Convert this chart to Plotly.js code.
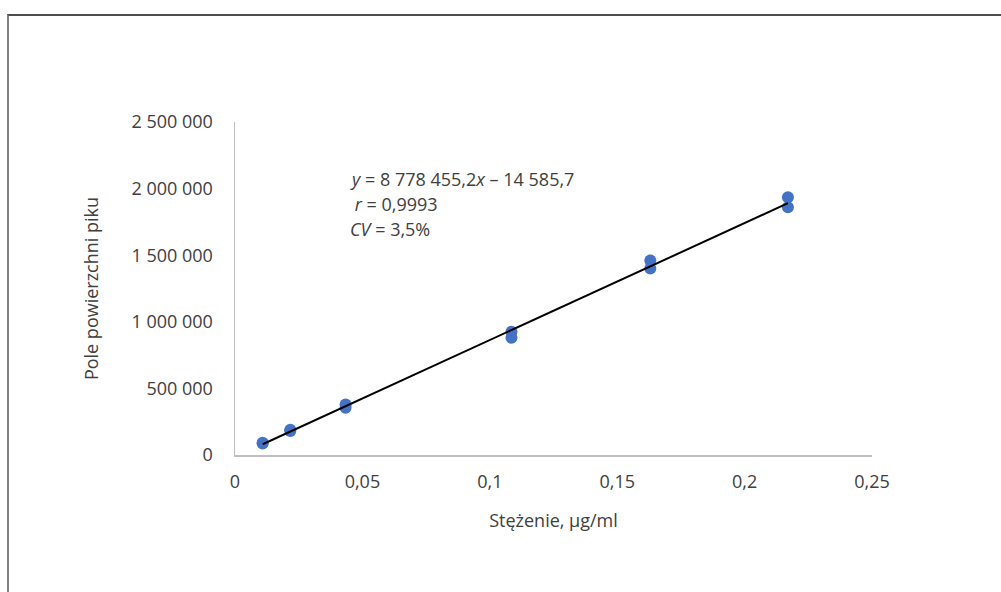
<!DOCTYPE html>
<html>
<head>
<meta charset="utf-8">
<script src="https://cdn.plot.ly/plotly-3.0.1.min.js"></script>
<style>
  html, body { margin: 0; padding: 0; width: 1001px; height: 592px; overflow: hidden; background: #fff; }
  #chart { position: absolute; left: 0; top: 0; width: 1001px; height: 592px; }
  #frame { position: absolute; left: 7px; top: 14px; width: 2000px; height: 2000px;
           border-top: 2px solid #4d4d4d; border-left: 2px solid #7f7f7f; pointer-events: none; }
</style>
</head>
<body>
<div id="chart"></div>
<div id="frame"></div>
<script>
// Concentration (µg/ml) and peak area
const concentration = [0.01085, 0.01085, 0.0217, 0.0217, 0.0434, 0.0434, 0.1085, 0.1085, 0.163, 0.163, 0.217, 0.217];
const peakArea      = [86000, 92000, 180000, 190000, 380000, 355000, 925000, 880000, 1460000, 1400000, 1935000, 1860000];

// Regression line parameters
const slope = 8778455.2;
const intercept = -14585.7;

const xTickVals = [0, 0.05, 0.1, 0.15, 0.2, 0.25];
const yTickVals = [0, 500000, 1000000, 1500000, 2000000, 2500000];

const xTitle = "Stężenie, µg/ml";
const yTitle = "Pole powierzchni piku";
const eqLines = ["<i>y</i> = 8 778 455,2<i>x</i> – 14 585,7", " <i>r</i> = 0,9993", "<i>CV</i> = 3,5%"];

const xMin = Math.min(...concentration), xMax = Math.max(...concentration);
const lineX = [xMin, xMax];
const lineY = lineX.map(v => slope * v + intercept);

const font = "'Open Sans', 'Noto Sans', sans-serif";
const txt = "#404040";
const fs = 18;

const data = [
  {
    x: concentration, y: peakArea, type: "scatter", mode: "markers",
    marker: { color: "#4472C4", size: 12 }, hoverinfo: "x+y", showlegend: false
  },
  {
    x: lineX, y: lineY, type: "scatter", mode: "lines",
    line: { color: "#000000", width: 2 }, showlegend: false
  }
];

const eqY = [2070000, 1882500, 1695000];
const annotations = eqLines.map((t, i) => ({
  xref: "x", yref: "y", x: 0.0445, y: eqY[i], xanchor: "left", yanchor: "middle",
  align: "left", showarrow: false, text: t,
  font: { family: font, size: fs, color: txt }
}));

const layout = {
  width: 1001, height: 592,
  paper_bgcolor: "#ffffff", plot_bgcolor: "#ffffff",
  separators: ", ",
  margin: { l: 235, r: 129, t: 122, b: 137 },
  font: { family: font, size: fs, color: txt },
  showlegend: false,
  xaxis: {
    range: [0, 0.25], tickvals: xTickVals,
    showgrid: false, zeroline: false, showline: true, linecolor: "#bfbfbf", linewidth: 1.5,
    ticks: "", ticklabelstandoff: 10,
    tickfont: { family: font, size: fs, color: txt },
    title: { text: xTitle, font: { family: font, size: fs, color: txt }, standoff: 22 }
  },
  yaxis: {
    range: [0, 2500000], tickvals: yTickVals, tickformat: ",d",
    showgrid: false, zeroline: false, showline: true, linecolor: "#bfbfbf", linewidth: 1.5,
    ticks: "", ticklabelstandoff: 17,
    tickfont: { family: font, size: fs, color: txt },
    title: { text: yTitle, font: { family: font, size: fs, color: txt }, standoff: 28 }
  },
  annotations: annotations
};

Plotly.newPlot("chart", data, layout, { displayModeBar: false, staticPlot: true });
</script>
</body>
</html>
